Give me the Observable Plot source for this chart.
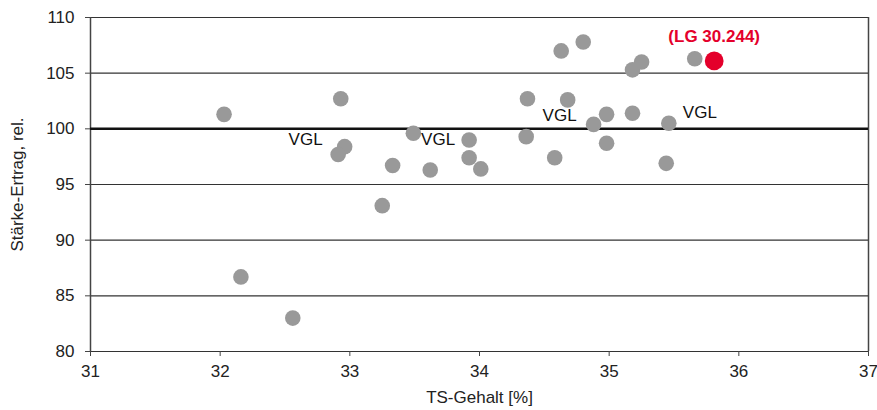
<!DOCTYPE html>
<html>
<head>
<meta charset="utf-8">
<script src="https://cdn.jsdelivr.net/npm/d3@7"></script>
<script src="https://cdn.jsdelivr.net/npm/@observablehq/plot@0.6"></script>
<style>
  html, body { margin: 0; padding: 0; background: #fff; }
  svg { font-family: "Liberation Sans", Arial, sans-serif; }
  #chart svg text { font-size: 17px; }
</style>
</head>
<body>
<div id="chart"></div>
<script>
// TS-Gehalt [%] and Stärke-Ertrag (rel.) of the grey varieties
const tsGehalt = [32.03, 32.16, 32.56, 32.93, 32.96, 32.91, 33.33, 33.25, 33.49, 33.62, 33.92, 33.92, 34.01,
                  34.63, 34.80, 35.18, 35.25, 35.66, 34.37, 34.68, 34.98, 35.18, 34.88, 35.46, 34.36, 34.58, 34.98, 35.44];
const staerke  = [101.3, 86.7, 83.0, 102.7, 98.4, 97.7, 96.7, 93.1, 99.6, 96.3, 99.0, 97.4, 96.4,
                  107.0, 107.8, 105.3, 106.0, 106.3, 102.7, 102.6, 101.3, 101.4, 100.4, 100.5, 99.3, 97.4, 98.7, 96.9];
// highlighted variety
const highlightName = "(LG 30.244)";
const highlightTS = [35.81];
const highlightY = [106.1];
// VGL labels (attached to points)
const vglTS = [32.96, 33.92, 34.88, 35.46];
const vglY  = [98.4, 99.0, 100.4, 100.5];
const vglText = ["VGL", "VGL", "VGL", "VGL"];
// ticks
const xTicks = [31, 32, 33, 34, 35, 36, 37];
const yTicks = [80, 85, 90, 95, 100, 105, 110];
const gridY = [85, 90, 95, 105, 110];

const pts = tsGehalt.map((x, i) => ({x, y: staerke[i]}));
const hi = highlightTS.map((x, i) => ({x, y: highlightY[i], name: highlightName}));
const vgl = vglTS.map((x, i) => ({x, y: vglY[i], t: vglText[i]}));
const labelOpts = [
  {anchor: "end", dx: -22, dy: -7},
  {anchor: "end", dx: -14, dy: 0},
  {anchor: "end", dx: -17, dy: -9},
  {anchor: "start", dx: 14, dy: -11}
];

const chart = Plot.plot({
  width: 877,
  height: 410,
  marginLeft: 90,
  marginRight: 9,
  marginTop: 17,
  marginBottom: 59,
  style: {fontFamily: "'Liberation Sans', Arial, sans-serif", fontSize: "17px", color: "#222", background: "#fff"},
  x: {domain: [31, 37]},
  y: {domain: [80, 110]},
  marks: [
    Plot.ruleY(gridY, {stroke: "#333", strokeWidth: 1.2}),
    Plot.ruleY([80], {stroke: "#333", strokeWidth: 1.2}),
    Plot.ruleX([31], {stroke: "#444", strokeWidth: 1.5}),
    Plot.ruleX([37], {stroke: "#444", strokeWidth: 1.5}),
    Plot.ruleY([100], {stroke: "#111", strokeWidth: 2.5}),
    Plot.axisX({ticks: xTicks, tickSize: 5, tickPadding: 8, tickFormat: d => String(d), stroke: "#444",
      fontSize: 17, label: "TS-Gehalt [%]", labelAnchor: "center", labelArrow: "none", labelOffset: 51}),
    Plot.axisY({ticks: yTicks, tickSize: 5, tickPadding: 11, tickFormat: d => String(d), stroke: "#444",
      fontSize: 17, label: "Stärke-Ertrag, rel.", labelAnchor: "center", labelArrow: "none", labelOffset: 80}),
    Plot.dot(pts, {x: "x", y: "y", r: 7.8, fill: "#999999", stroke: "none"}),
    Plot.dot(hi, {x: "x", y: "y", r: 9.4, fill: "#e4002b", stroke: "none"}),
    Plot.text(hi, {x: "x", y: "y", text: "name", dy: -24, fill: "#e4002b", fontWeight: "bold", fontSize: 17}),
    ...vgl.map((d, i) => Plot.text([d], {x: "x", y: "y", text: "t", textAnchor: labelOpts[i].anchor,
      dx: labelOpts[i].dx, dy: labelOpts[i].dy, fill: "#111", fontSize: 17}))
  ]
});
document.getElementById("chart").appendChild(chart);
</script>
</body>
</html>
